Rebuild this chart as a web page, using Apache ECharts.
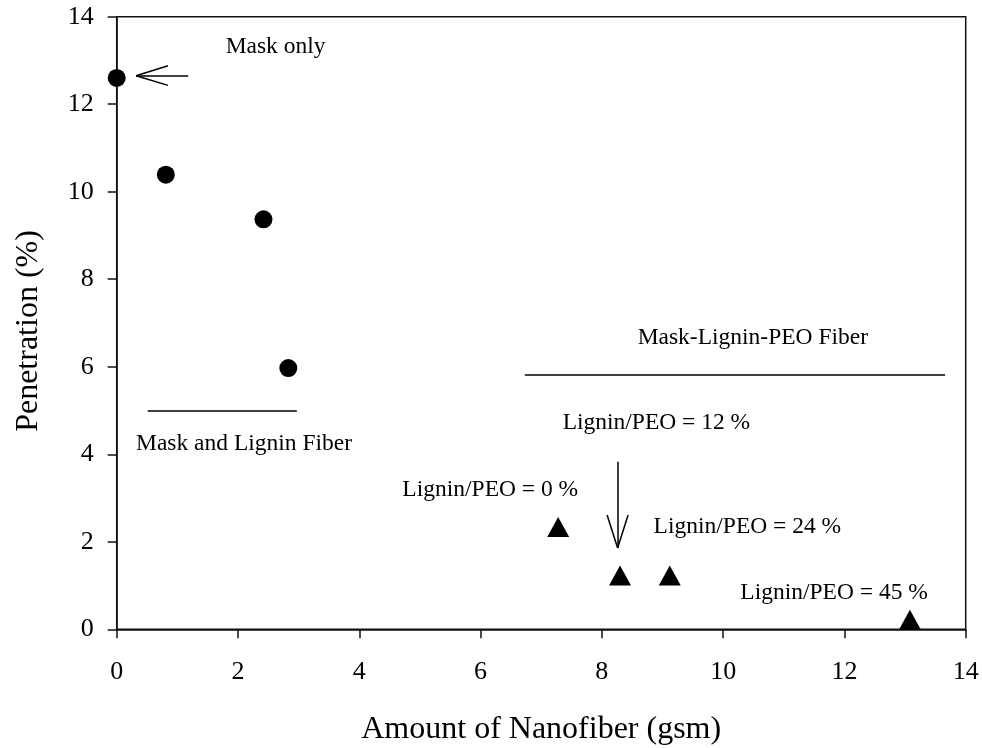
<!DOCTYPE html>
<html>
<head>
<meta charset="utf-8">
<script src="https://cdn.jsdelivr.net/npm/echarts@6/dist/echarts.min.js"></script>
<style>html,body{margin:0;padding:0;background:#fff}#c{width:982px;height:748px}</style>
</head>
<body>
<div id="c"></div>
<script>
// Data
const circleX = [0, 0.81, 2.42, 2.83];
const circleY = [12.6, 10.39, 9.37, 5.97];
const triX = [7.28, 8.30, 9.12, 13.08];
const triY = [2.34, 1.23, 1.23, 0.22];
const xTicks = [0, 2, 4, 6, 8, 10, 12, 14];
const yTicks = [0, 2, 4, 6, 8, 10, 12, 14];

// Annotation texts, anchored in data units
const noteTexts = ['Mask only', 'Mask and Lignin Fiber', 'Mask-Lignin-PEO Fiber',
  'Lignin/PEO = 12 %', 'Lignin/PEO = 0 %', 'Lignin/PEO = 24 %', 'Lignin/PEO = 45 %'];
const noteX = [2.62, 2.10, 10.49, 8.90, 6.16, 10.40, 11.83];
const noteY = [13.31, 4.25, 6.65, 4.71, 3.18, 2.34, 0.84];

// Annotation line segments (arrows and group rules), in data units
const segStart = [[0.32, 12.65], [0.32, 12.65], [0.32, 12.65], [0.51, 5.0], [6.73, 5.82], [8.26, 3.83], [8.26, 1.86], [8.26, 1.86]];
const segEnd   = [[1.18, 12.65], [0.846, 12.88], [0.846, 12.43], [2.97, 5.0], [13.66, 5.82], [8.26, 1.86], [8.087, 2.61], [8.433, 2.61]];

const FONT = '"Liberation Serif", "Times New Roman", serif';
const AXC = '#111';

const chart = echarts.init(document.getElementById('c'), null, {renderer: 'canvas'});

const axisCommon = {
  type: 'value', min: 0, max: 14, interval: 2,
  splitLine: {show: false},
  axisLine: {show: true, onZero: false, lineStyle: {color: AXC, width: 1.5}},
  axisTick: {show: true, inside: false, length: 9, lineStyle: {color: AXC, width: 1.5}},
  nameLocation: 'middle',
};

chart.setOption({
  animation: false,
  backgroundColor: '#fff',
  grid: {left: 116.7, right: 16.3, top: 16.7, bottom: 118.7, containLabel: false, outerBoundsMode: 'none',
    show: true, borderColor: AXC, borderWidth: 1.5, backgroundColor: 'transparent'},
  xAxis: Object.assign({}, axisCommon, {
    name: 'Amount of Nanofiber (gsm)', nameGap: 84,
    nameTextStyle: {fontFamily: FONT, fontSize: 32, color: '#000'},
    axisLabel: {fontFamily: FONT, fontSize: 26, color: '#000', margin: 30,
      formatter: v => xTicks.includes(v) ? String(v) : ''}
  }),
  yAxis: Object.assign({}, axisCommon, {
    name: 'Penetration (%)', nameGap: 72,
    nameTextStyle: {fontFamily: FONT, fontSize: 32, color: '#000', padding: [0, 16, 0, 0]},
    axisLabel: {fontFamily: FONT, fontSize: 26, color: '#000', margin: 23,
      formatter: v => yTicks.includes(v) ? String(v) : ''}
  }),
  series: [
    {
      type: 'scatter', symbol: 'circle', symbolSize: 18,
      itemStyle: {color: '#000', opacity: 1},
      data: circleX.map((x, i) => [x, circleY[i]]),
      z: 3
    },
    {
      type: 'scatter', symbol: 'triangle', symbolSize: [22, 20],
      itemStyle: {color: '#000', opacity: 1},
      data: triX.map((x, i) => [x, triY[i]]),
      z: 3,
      markLine: {
        silent: true, animation: false,
        symbol: ['none', 'none'],
        label: {show: false},
        lineStyle: {color: '#000', width: 1.5, type: 'solid', opacity: 1},
        data: segStart.map((s, i) => [{coord: s}, {coord: segEnd[i]}])
      }
    },
    {
      type: 'scatter', symbolSize: 0, silent: true,
      itemStyle: {opacity: 1},
      data: noteX.map((x, i) => ({value: [x, noteY[i]], name: noteTexts[i]})),
      label: {show: true, position: 'inside', formatter: p => p.name, opacity: 1,
        fontFamily: FONT, fontSize: 23.5, color: '#000', align: 'center', verticalAlign: 'middle'},
      z: 4
    }
  ]
});
</script>
</body>
</html>
